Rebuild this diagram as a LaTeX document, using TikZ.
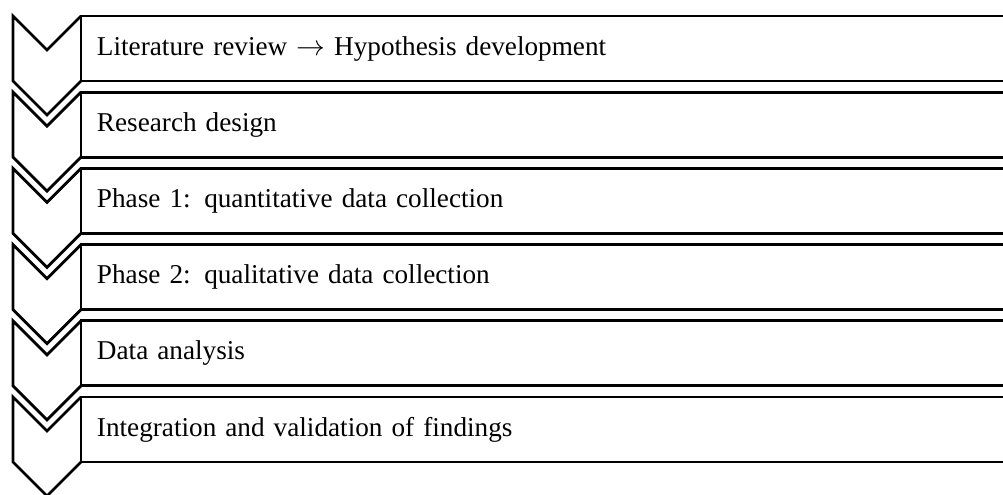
\documentclass[tikz,border=0pt]{standalone}
\usepackage{fontspec}
\setmainfont{Liberation Serif}
\begin{document}
\begin{tikzpicture}[
x=0.5pt, y=-0.5pt,
line width=1.4pt, line join=miter,
barbox/.style={rectangle, draw=black, anchor=north west, outer sep=0pt, inner xsep=8pt,
  minimum height=32.5pt, text width=446.5pt, align=left, font=\fontsize{13.6}{16}\selectfont},
chevron/.style={draw=black, line width=1.4pt},
]
\useasboundingbox (0,0) rectangle (1003,494);
%Nodes
\node[barbox] (r1) at (81,16)    {Literature review $\rightarrow$ Hypothesis development};
\node[barbox] (r2) at (81,92.2)  {Research design};
\node[barbox] (r3) at (81,168.4) {Phase 1: quantitative data collection};
\node[barbox] (r4) at (81,244.6) {Phase 2: qualitative data collection};
\node[barbox] (r5) at (81,320.8) {Data analysis};
\node[barbox] (r6) at (81,397)   {Integration and validation of findings};

%Chevrons
\foreach \r in {r1,r2,r3,r4,r5,r6}
  \draw[chevron] (\r.north west) -- ++(-34,34) -- ++(-34,-34) -- ++(0,65) -- ++(34,34) -- (\r.south west);
\end{tikzpicture}
\end{document}
